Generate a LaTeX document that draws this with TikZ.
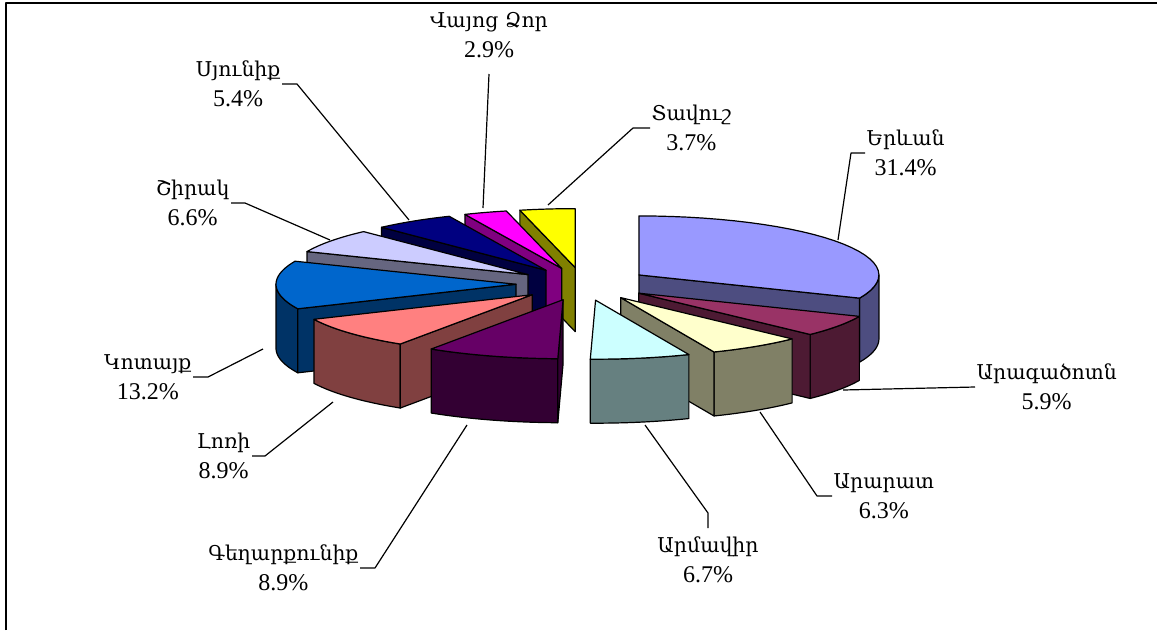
\documentclass[tikz,border=0pt]{standalone}
\usepackage{fontspec}
\setmainfont{Liberation Serif}
\newfontfamily\armfont[Scale=0.85]{DejaVu Serif}
\usetikzlibrary{positioning}

\definecolor{yerevanTop}{HTML}{9999FF}   \definecolor{yerevanSide}{HTML}{4D4D80}
\definecolor{aragatsTop}{HTML}{993366}   \definecolor{aragatsSide}{HTML}{4D1A33}
\definecolor{araratTop}{HTML}{FFFFCC}    \definecolor{araratSide}{HTML}{808066}
\definecolor{armavirTop}{HTML}{CCFFFF}   \definecolor{armavirSide}{HTML}{668080}
\definecolor{geghTop}{HTML}{660066}      \definecolor{geghSide}{HTML}{330033}
\definecolor{loriTop}{HTML}{FF8080}      \definecolor{loriSide}{HTML}{804040}
\definecolor{kotaykTop}{HTML}{0066CC}    \definecolor{kotaykSide}{HTML}{003366}
\definecolor{shirakTop}{HTML}{CCCCFF}    \definecolor{shirakSide}{HTML}{666680}
\definecolor{syunikTop}{HTML}{000080}    \definecolor{syunikSide}{HTML}{000040}
\definecolor{vayotsTop}{HTML}{FF00FF}    \definecolor{vayotsSide}{HTML}{800080}
\definecolor{tavushTop}{HTML}{FFFF00}    \definecolor{tavushSide}{HTML}{808000}

\begin{document}
\begin{tikzpicture}[x=1pt,y=-1pt,line width=1.2pt,line join=round,
    regionlbl/.style={align=center,font=\fontsize{24}{30}\selectfont,inner sep=1pt}]
  \useasboundingbox (0,0) rectangle (1157,630);
  \draw[line width=2pt] (6,630) -- (6,3) -- (1157,3);

  % slices of the pie, drawn from the back to the front
  \foreach \ca/\cb/\tc/\sc in {96.2/99.9/tavushTop/tavushSide, 93.3/96.2/vayotsTop/vayotsSide,
      87.9/93.3/syunikTop/syunikSide, 81.3/87.9/shirakTop/shirakSide, 0/31.4/yerevanTop/yerevanSide,
      68.1/81.3/kotaykTop/kotaykSide, 31.4/37.3/aragatsTop/aragatsSide, 59.2/68.1/loriTop/loriSide,
      37.3/43.6/araratTop/araratSide, 50.3/59.2/geghTop/geghSide, 43.6/50.3/armavirTop/armavirSide}{
    \pgfmathsetmacro\a{90-3.6036*\cb}
    \pgfmathsetmacro\b{90-3.6036*\ca}
    \pgfmathsetmacro\m{(\a+\b)/2}
    \pgfmathsetmacro\px{583+67*cos(\m)}
    \pgfmathsetmacro\py{284-16.47*sin(\m)}
    \pgfmathsetmacro\sa{max(\a,-180)}
    \pgfmathsetmacro\sb{min(\b,0)}
    \pgfmathsetmacro\cosa{cos(\a)}
    \pgfmathsetmacro\cosb{cos(\b)}
    \ifdim\sa pt<\sb pt
      \filldraw[fill=\sc] plot[domain=\sa:\sb,samples=30] ({\px+240*cos(\x)},{\py-59*sin(\x)})
        -- plot[domain=\sb:\sa,samples=30] ({\px+240*cos(\x)},{\py+64-59*sin(\x)}) -- cycle;
    \fi
    \ifdim\cosa pt>0pt
      \filldraw[fill=\sc] (\px,\py) -- ({\px+240*cos(\a)},{\py-59*sin(\a)}) -- ++(0,64) -- (\px,\py+64) -- cycle;
    \fi
    \ifdim\cosb pt<0pt
      \filldraw[fill=\sc] (\px,\py) -- ({\px+240*cos(\b)},{\py-59*sin(\b)}) -- ++(0,64) -- (\px,\py+64) -- cycle;
    \fi
    \filldraw[fill=\tc] (\px,\py) -- plot[domain=\a:\b,samples=30] ({\px+240*cos(\x)},{\py-59*sin(\x)}) -- cycle;
  }

  % labels
  \node (lYerevan) [regionlbl,anchor=west]  at (865,153) {{\armfont Երևան}\\31.4\%};
  \node (lTavush)  [regionlbl,anchor=west]  at (650,128) {{\armfont Տավուշ}\\3.7\%};
  \node (lVayots)  [regionlbl,anchor=south,outer sep=15pt] at (489,74) {{\armfont Վայոց Ձոր}\\2.9\%};
  \node (lSyunik)  [regionlbl,anchor=east]  at (282,84)  {{\armfont Սյունիք}\\5.4\%};
  \node (lShirak)  [regionlbl,anchor=east]  at (231,203) {{\armfont Շիրակ}\\6.6\%};
  \node (lKotayk)  [regionlbl,anchor=east]  at (193,377) {{\armfont Կոտայք}\\13.2\%};
  \node (lLori)    [regionlbl,anchor=east]  at (252,456) {{\armfont Լոռի}\\8.9\%};
  \node (lGegh)    [regionlbl,anchor=east]  at (360,568) {{\armfont Գեղարքունիք}\\8.9\%};
  \node (lArmavir) [regionlbl,anchor=north,outer sep=8pt] at (708,528) {{\armfont Արմավիր}\\6.7\%};
  \node (lArarat)  [regionlbl,anchor=west]  at (832,496) {{\armfont Արարատ}\\6.3\%};
  \node (lAragats) [regionlbl,anchor=west]  at (975,387) {{\armfont Արագածոտն}\\5.9\%};

  % leader lines
  \coordinate (pYerevan) at (838,240);
  \coordinate (pTavush)  at (548,205);
  \coordinate (pVayots)  at (483,208);
  \coordinate (pSyunik)  at (409,220);
  \coordinate (pShirak)  at (330,240);
  \coordinate (pKotayk)  at (263,349);
  \coordinate (pLori)    at (333,402);
  \coordinate (pGegh)    at (467,425);
  \coordinate (pArmavir) at (645,425);
  \coordinate (pArarat)  at (760,412);
  \coordinate (pAragats) at (843,390);
  \draw (pYerevan) -- ([xshift=-14pt]lYerevan.west) -- (lYerevan.west);
  \draw (pTavush)  -- ([xshift=-17pt]lTavush.west) -- (lTavush.west);
  \draw (pVayots)  -- (lVayots.south);
  \draw (pSyunik)  -- ([xshift=15pt]lSyunik.east) -- (lSyunik.east);
  \draw (pShirak)  -- ([xshift=14pt]lShirak.east) -- (lShirak.east);
  \draw (pKotayk)  -- ([xshift=15pt]lKotayk.east) -- (lKotayk.east);
  \draw (pLori)    -- ([xshift=13pt]lLori.east) -- (lLori.east);
  \draw (pGegh)    -- ([xshift=15pt]lGegh.east) -- (lGegh.east);
  \draw (pArmavir) -- ([yshift=15pt]lArmavir.north) -- (lArmavir.north);
  \draw (pArarat)  -- ([xshift=-15pt]lArarat.west) -- (lArarat.west);
  \draw (pAragats) -- (lAragats.west);
\end{tikzpicture}
\end{document}
